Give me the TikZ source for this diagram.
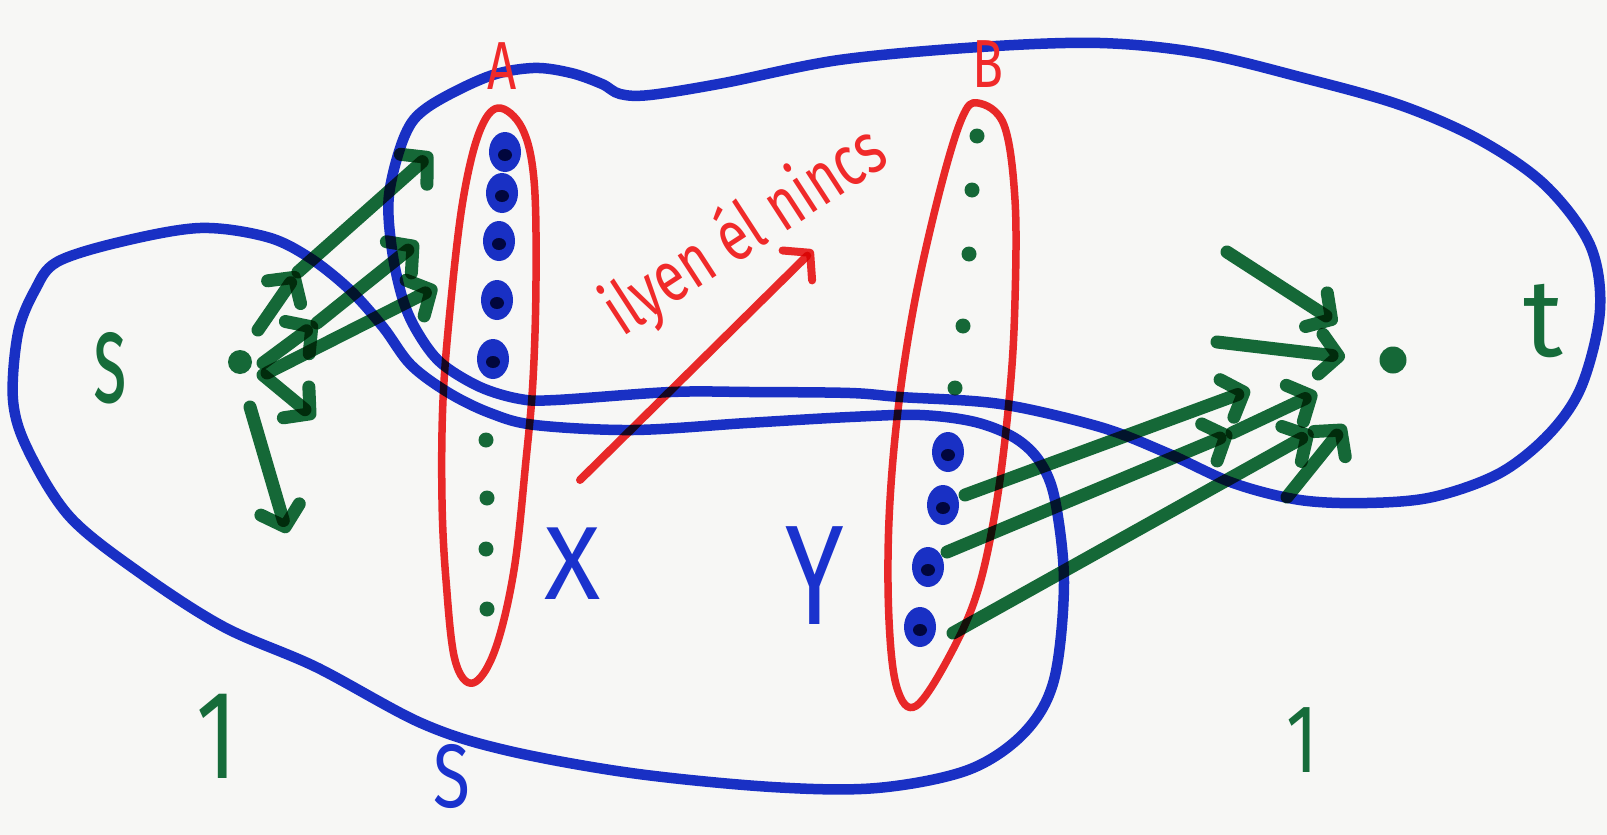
\documentclass[tikz,border=0pt]{standalone}
\usepackage{fontspec}
\setmainfont{Fira Sans}
\newfontfamily\narA[FakeStretch=0.75]{Fira Sans}
\newfontfamily\narB[FakeStretch=0.55]{Fira Sans}
\usetikzlibrary{arrows.meta,shapes.geometric}
\definecolor{pblue}{RGB}{26,50,205}
\definecolor{pred}{RGB}{240,42,42}
\definecolor{pgreen}{RGB}{22,108,58}
\definecolor{pdark}{RGB}{16,36,80}
\definecolor{paper}{RGB}{247,247,245}
\newcommand{\fs}[1]{\fontsize{#1}{#1}\selectfont}
\begin{document}
\begin{tikzpicture}[x=1pt,y=-1pt,
  bcurve/.style={draw=pblue,line width=10.5pt,line cap=round,line join=round},
  rcurve/.style={draw=pred,line width=7.5pt,line join=round},
  gline/.style={draw=pgreen,line width=13pt,line cap=round},
  garrow/.style={gline,-{Straight Barb[round,length=18pt,width=40pt]}},
  rarrow/.style={draw=pred,line width=8pt,line cap=round,-{Straight Barb[round,length=18pt,width=42pt]}},
  bdot/.style={ellipse,fill=pblue,minimum width=32pt,minimum height=40pt,inner sep=0pt,
    path picture={\fill[pdark] ([yshift=-3pt]path picture bounding box.center) ellipse (7pt and 6pt);}},
  gdot/.style={circle,fill=pgreen,minimum size=15pt,inner sep=0pt},
  lbl/.style={inner sep=0pt}]
\fill[paper] (0,0) rectangle (1607,835);
\useasboundingbox (0,0) rectangle (1607,835);
\begin{scope}[blend mode=multiply]
% red sets A and B
\draw[rcurve] plot[smooth cycle,tension=0.6] coordinates {(498,108) (522,128) (534,180) (536,280) (533,380) (526,460) (514,570) (495,650) (473,683) (455,660) (446,580) (442,500) (443,400) (451,300) (463,200) (479,133)};
\draw[rcurve] plot[smooth cycle,tension=0.6] coordinates {(978,103) (1004,125) (1015,200) (1015,300) (1010,390) (997,500) (978,590) (950,655) (916,706) (897,688) (889,620) (889,520) (898,410) (915,300) (940,190) (962,118)};
% blue set S
\draw[bcurve] plot[smooth cycle,tension=0.55] coordinates {(57,262) (120,242) (200,228) (267,237) (310,258) (350,290) (383,327) (411,365) (449,393) (490,413) (535,425) (633,430) (747,423) (850,417) (920,415) (975,422) (1015,438) (1040,462) (1055,500) (1064,583) (1054,680) (1024,733) (968,770) (877,788) (772,787) (631,773) (505,750) (421,723) (316,667) (224,627) (140,573) (70,517) (28,450) (13,400) (18,333) (35,290)};
% blue set containing t
\draw[bcurve] plot[smooth cycle,tension=0.55] coordinates {(392,250) (389,195) (405,135) (428,107) (487,77) (533,68) (571,73) (602,84) (620,94) (650,95) (724,83) (839,60) (980,47) (1100,43) (1200,53) (1300,77) (1400,105) (1480,140) (1545,185) (1590,245) (1600,310) (1582,385) (1550,433) (1500,473) (1433,497) (1367,503) (1300,500) (1233,483) (1167,453) (1100,427) (1000,404) (900,397) (850,393) (750,392) (671,392) (556,400) (520,399) (480,387) (441,363) (418,333) (403,300)};
% dots in A
\node[bdot] (a1) at (505,152) {};
\node[bdot] (a2) at (502,193) {};
\node[bdot] (a3) at (499,241) {};
\node[bdot] (a4) at (497,300) {};
\node[bdot] (a5) at (493,359) {};
\node[gdot] (a6) at (486,440) {};
\node[gdot] (a7) at (487,498) {};
\node[gdot] (a8) at (486,549) {};
\node[gdot] (a9) at (487,609) {};
% dots in B
\node[gdot] (b1) at (977,136) {};
\node[gdot] (b2) at (972,190) {};
\node[gdot] (b3) at (969,254) {};
\node[gdot] (b4) at (963,326) {};
\node[gdot] (b5) at (955,388) {};
\node[bdot] (b6) at (948,452) {};
\node[bdot] (b7) at (943,505) {};
\node[bdot] (b8) at (928,567) {};
\node[bdot] (b9) at (920,627) {};
% s and t
\node[circle,fill=pgreen,minimum size=24pt,inner sep=0pt] (s) at (240,362) {};
\node[circle,fill=pgreen,minimum size=27pt,inner sep=0pt] (t) at (1393,360) {};
% arrow end points
\coordinate (p1s) at (258,330); \coordinate (p1m) at (298,272); \coordinate (p1e) at (432,153);
\coordinate (p2s) at (263,363); \coordinate (p2m) at (317,323); \coordinate (p2e) at (418,242);
\coordinate (p3s) at (267,373); \coordinate (p3e) at (437,287);
\coordinate (p4s) at (263,375); \coordinate (p4e) at (315,418);
\coordinate (p5s) at (250,407); \coordinate (p5e) at (287,533);
\coordinate (qas) at (1227,252); \coordinate (qae) at (1337,323);
\coordinate (qbs) at (1217,342); \coordinate (qbe) at (1345,357);
\coordinate (qcs) at (965,495); \coordinate (qce) at (1250,390);
\coordinate (qds) at (947,552); \coordinate (qdm) at (1232,433); \coordinate (qde) at (1317,393);
\coordinate (qes) at (953,633); \coordinate (qee) at (1313,432);
\coordinate (qfs) at (1287,497); \coordinate (qfe) at (1345,425);
\coordinate (rs) at (580,480); \coordinate (re) at (813,250);
% green arrows out of s
\draw[garrow] (p1s) -- (p1m);
\draw[garrow] (p1m) -- (p1e);
\draw[garrow] (p2s) -- (p2m);
\draw[garrow] (p2m) -- (p2e);
\draw[garrow] (p3s) -- (p3e);
\draw[garrow] (p4s) -- (p4e);
\draw[garrow] (p5s) -- (p5e);
% green arrows into t
\draw[garrow] (qas) -- (qae);
\draw[garrow] (qbs) -- (qbe);
\draw[garrow] (qcs) -- (qce);
\draw[garrow] (qds) -- (qdm);
\draw[garrow] (qdm) -- (qde);
\draw[garrow] (qes) -- (qee);
\draw[garrow] (qfs) -- (qfe);
% red arrow
\draw[rarrow] (rs) -- (re);
\end{scope}
% labels
\node[lbl,text=pgreen,font=\narB\fs{130}] (slab) at (110,368) {s};
\node[lbl,text=pgreen,font=\fs{110}] (tlab) at (1543,321) {t};
\node[lbl,text=pred,font=\narA\fs{68}] (alab) at (502,66) {A};
\node[lbl,text=pred,font=\narA\fs{68}] (blab) at (988,64) {B};
\node[lbl,text=pblue,font=\fs{104}] (xlab) at (573,564) {X};
\node[lbl,text=pblue,font=\narA\fs{142}] (ylab) at (815,576) {Y};
\node[lbl,text=pblue,font=\narA\fs{90}] (Slab) at (452,776) {S};
\node[lbl,text=pgreen,font=\narA\fs{126}] (one1) at (217,736) {1};
\node[lbl,text=pgreen,font=\narA\fs{97}] (one2) at (1302,740) {1};
\node[lbl,text=pred,font=\narA\fs{72},rotate=33,anchor=base] (note) at (757,250) {ilyen él nincs};
\end{tikzpicture}
\end{document}
